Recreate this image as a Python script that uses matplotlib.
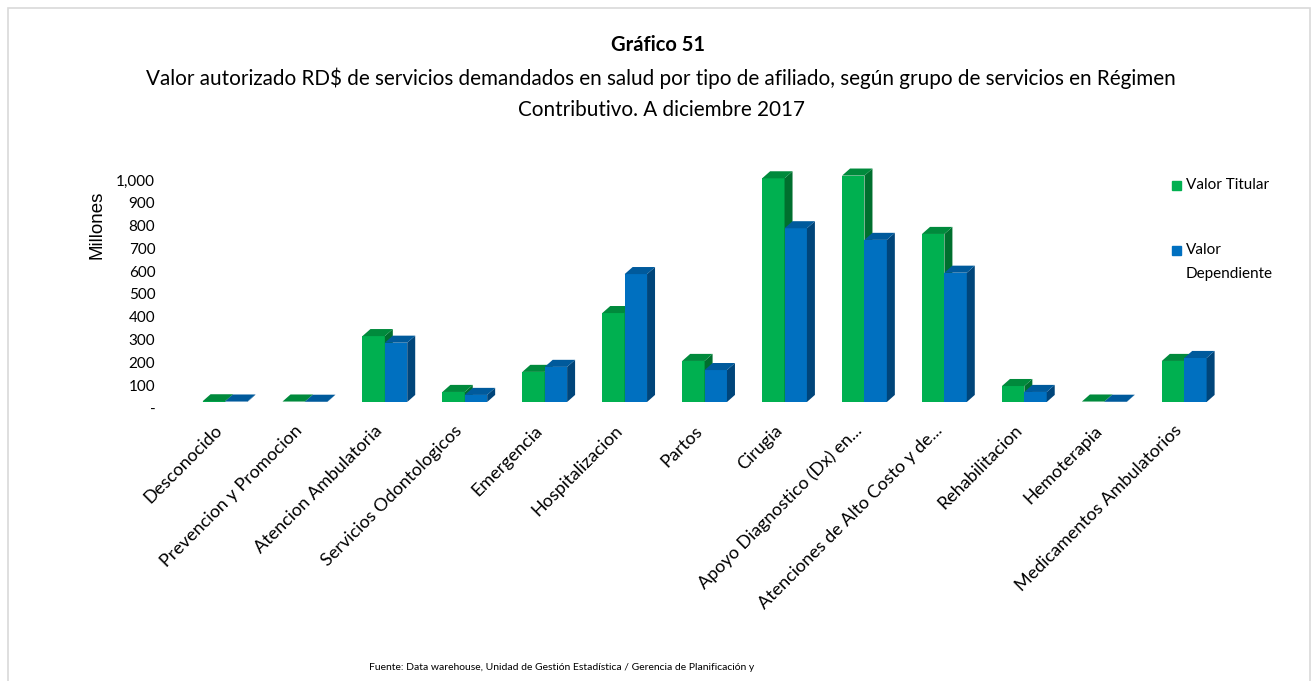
import matplotlib
matplotlib.use("Agg")
import matplotlib.pyplot as plt
from matplotlib.patches import Rectangle
from matplotlib.transforms import ScaledTranslation

categorias = [
    "Desconocido", "Prevencion y Promocion", "Atencion Ambulatoria",
    "Servicios Odontologicos", "Emergencia", "Hospitalizacion", "Partos",
    "Cirugia", "Apoyo Diagnostico (Dx) en...", "Atenciones de Alto Costo y de...",
    "Rehabilitacion", "Hemoterapia", "Medicamentos Ambulatorios",
]
valor_titular = [3, 2, 289, 44, 132, 390, 180, 981, 993, 737, 70, 2, 180]
valor_dependiente = [2, 1, 260, 31, 154, 561, 140, 762, 711, 567, 44, 1, 193]
yticks = [0, 100, 200, 300, 400, 500, 600, 700, 800, 900, 1000]

FONT = ["Lato", "DejaVu Sans"]
plt.rcParams["font.family"] = FONT

fig = plt.figure(figsize=(13.15, 6.81), dpi=100)
W, H = 1315, 681

# chart border
fig.patches.append(Rectangle((8 / W, -0.05), 1302 / W, (H - 8) / H + 0.05,
                             transform=fig.transFigure, fill=False,
                             edgecolor="#d9d9d9", linewidth=1.2))

ax = fig.add_axes([165 / W, (H - 402) / H, 1060 / W, 239.4 / H])
ax.set_xlim(-0.75, 12.51)
ax.set_ylim(0, 1050)

ancho = 0.28
dx, dy = 0.1, 31  # profundidad del efecto 3D
series = [
    (valor_titular, -ancho / 2, "#00b050", "#006f2e", "#008a3c", 2),
    (valor_dependiente, ancho / 2, "#0070c0", "#00457a", "#005a9c", 3),
]
x = list(range(len(categorias)))
for vals, off, c_front, c_side, c_top, z in series:
    for xi, v in zip(x, vals):
        xl = xi + off - ancho / 2
        xr = xi + off + ancho / 2
        ax.fill([xl, xr, xr, xl], [0, 0, v, v], color=c_front, zorder=z, lw=0)
        ax.fill([xr, xr + dx, xr + dx, xr], [0, dy, v + dy, v], color=c_side, zorder=z, lw=0)
        ax.fill([xl, xl + dx, xr + dx, xr], [v, v + dy, v + dy, v], color=c_top, zorder=z, lw=0)

for s in ax.spines.values():
    s.set_visible(False)
ax.set_xticks([])
ax.set_yticks(yticks)
ax.set_yticklabels(["-" if t == 0 else f"{t:,}" for t in yticks])
ax.tick_params(axis="y", length=0, pad=7, labelsize=11, labelcolor="#000000")
shift = ScaledTranslation(0, -0.06, fig.dpi_scale_trans)
for lab in ax.get_yticklabels():
    lab.set_transform(lab.get_transform() + shift)

lab_tr = ax.get_xaxis_transform() + ScaledTranslation(-0.05, -0.26, fig.dpi_scale_trans)
for xi, c in zip(x, categorias):
    ax.text(xi, 0, c, transform=lab_tr, rotation=45, rotation_mode="anchor",
            ha="right", va="center", fontsize=13)

fig.text(97 / W, 1 - 225 / H, "Millones", rotation=90, ha="center", va="center",
         fontsize=13.5, family=["Liberation Sans", "DejaVu Sans"])

fig.text(658 / W, 1 - 45 / H, "Gráfico 51", ha="center", va="center",
         fontsize=14.5, fontweight="bold")
fig.text(661 / W, 1 - 78 / H,
         "Valor autorizado RD$ de servicios demandados en salud por tipo de afiliado, según grupo de servicios en Régimen",
         ha="center", va="center", fontsize=14.9)
fig.text(661 / W, 1 - 110 / H, "Contributivo. A diciembre 2017",
         ha="center", va="center", fontsize=14.9)

# leyenda
fig.patches.append(Rectangle((1172 / W, 1 - 190 / H), 9 / W, 9 / H,
                             transform=fig.transFigure, color="#00b050"))
fig.text(1186 / W, 1 - 185 / H, "Valor Titular", ha="left", va="center", fontsize=11)
fig.patches.append(Rectangle((1172 / W, 1 - 255 / H), 9 / W, 9 / H,
                             transform=fig.transFigure, color="#0070c0"))
fig.text(1186 / W, 1 - 250 / H, "Valor", ha="left", va="center", fontsize=11)
fig.text(1186 / W, 1 - 274 / H, "Dependiente", ha="left", va="center", fontsize=11)

fig.text(562 / W, 1 - 667 / H,
         "Fuente: Data warehouse, Unidad de Gestión Estadística / Gerencia de Planificación y",
         ha="center", va="center", fontsize=7.5)

fig.savefig("out.png", dpi=100)
